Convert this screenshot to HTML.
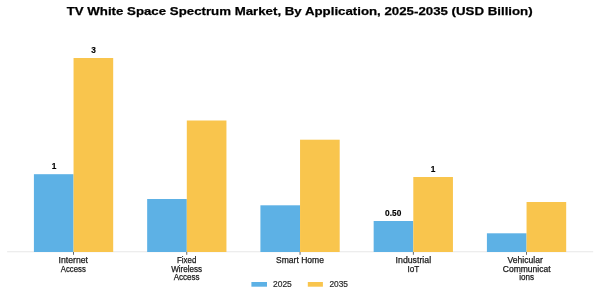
<!DOCTYPE html>
<html><head><meta charset="utf-8">
<style>
html,body{margin:0;padding:0;background:#fff;width:600px;height:300px;overflow:hidden}
svg{display:block}
svg{will-change:transform}
text{font-family:"Liberation Sans",sans-serif}
</style></head><body>
<svg width="600" height="300" viewBox="0 0 600 300">
<rect x="0" y="0" width="600" height="300" fill="#fff"/>
<!-- spine -->
<rect x="7.07" y="251.25" width="586.13" height="1" fill="#e8e8e8"/>
<!-- bars -->
<g fill="#5DB1E5">
<rect x="33.91" y="174.2" width="39.64" height="77.8"/>
<rect x="147.16" y="199" width="39.64" height="53.00"/>
<rect x="260.41" y="205.3" width="39.64" height="46.7"/>
<rect x="373.66" y="221" width="39.64" height="31"/>
<rect x="486.91" y="233.3" width="39.64" height="18.7"/>
</g>
<g fill="#F9C54D">
<rect x="73.55" y="58" width="39.64" height="194.00"/>
<rect x="186.80" y="120.5" width="39.64" height="131.50"/>
<rect x="300.05" y="139.7" width="39.64" height="112.30"/>
<rect x="413.30" y="177" width="39.64" height="75.00"/>
<rect x="526.55" y="202" width="39.64" height="50.00"/>
</g>
<!-- ticks -->
<g fill="#444">
<rect x="73.15" y="252" width="0.8" height="2.8"/>
<rect x="186.40" y="252" width="0.8" height="2.8"/>
<rect x="299.65" y="252" width="0.8" height="2.8"/>
<rect x="412.90" y="252" width="0.8" height="2.8"/>
<rect x="526.15" y="252" width="0.8" height="2.8"/>
</g>
<!-- title -->
<text x="299.65" y="15.4" font-size="11.8" font-weight="bold" text-anchor="middle" fill="#000" stroke="#000" stroke-width="0.25" textLength="466" lengthAdjust="spacingAndGlyphs">TV White Space Spectrum Market, By Application, 2025-2035 (USD Billion)</text>
<!-- data labels -->
<g font-size="8.3" font-weight="bold" fill="#000" stroke="#000" stroke-width="0.15" text-anchor="middle">
<text x="93.6" y="53.4">3</text>
<text x="54" y="169">1</text>
<text x="393.2" y="215.6">0.50</text>
<text x="433" y="172.3">1</text>
</g>
<!-- x labels -->
<g font-size="8.4" fill="#1a1a1a" stroke="#1a1a1a" stroke-width="0.25" text-anchor="middle">
<text x="73.31" y="262.7" textLength="29.5" lengthAdjust="spacingAndGlyphs">Internet</text>
<text x="73.31" y="271.5" textLength="25" lengthAdjust="spacingAndGlyphs">Access</text>
<text x="186.66" y="262.7" textLength="19.3" lengthAdjust="spacingAndGlyphs">Fixed</text>
<text x="186.66" y="271.5" textLength="30.9" lengthAdjust="spacingAndGlyphs">Wireless</text>
<text x="186.66" y="280.3" textLength="25.85" lengthAdjust="spacingAndGlyphs">Access</text>
<text x="300" y="262.7" textLength="48" lengthAdjust="spacingAndGlyphs">Smart Home</text>
<text x="413.35" y="262.7" textLength="35.5" lengthAdjust="spacingAndGlyphs">Industrial</text>
<text x="413.35" y="271.5" textLength="11.8" lengthAdjust="spacingAndGlyphs">IoT</text>
<text x="525.2" y="262.7" textLength="35.2" lengthAdjust="spacingAndGlyphs">Vehicular</text>
<text x="526.7" y="271.5" textLength="47.8" lengthAdjust="spacingAndGlyphs">Communicat</text>
<text x="526.7" y="280.3" textLength="14.8" lengthAdjust="spacingAndGlyphs">ions</text>
</g>
<!-- legend -->
<rect x="251.4" y="282" width="15.6" height="4.7" fill="#5DB1E5"/>
<rect x="307.8" y="282" width="15.1" height="4.7" fill="#F9C54D"/>
<g font-size="8.3" fill="#2a2a2a" stroke="#2a2a2a" stroke-width="0.2">
<text x="273" y="286.7" textLength="18.8" lengthAdjust="spacingAndGlyphs">2025</text>
<text x="329.4" y="286.7" textLength="18.6" lengthAdjust="spacingAndGlyphs">2035</text>
</g>
</svg>
</body></html>
